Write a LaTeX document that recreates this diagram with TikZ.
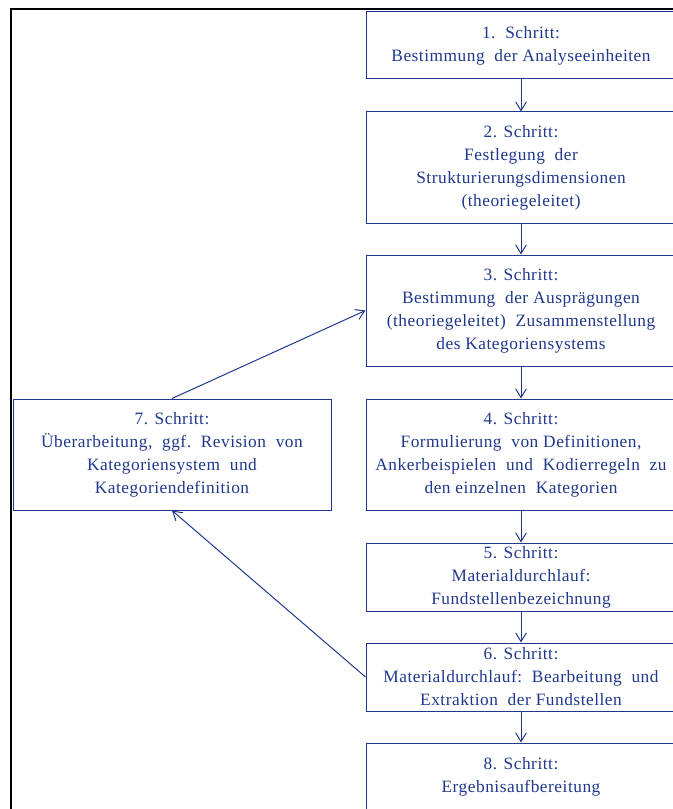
\documentclass[tikz,border=0pt]{standalone}
\usepackage{fontspec}
\setmainfont{Liberation Serif}[LetterSpace=3]
\usetikzlibrary{arrows.meta}
\definecolor{schrittblau}{RGB}{32,56,140}

\tikzset{
	schritt/.style={draw=schrittblau, line width=0.75pt, text=schrittblau, align=center,
		inner sep=0pt, minimum width=232.5pt, font=\fontsize{13pt}{17.25pt}\selectfont},
	pfeil/.style={draw=schrittblau, line width=0.75pt, -{Straight Barb[length=6.5pt,width=8pt]}}
}

\begin{document}
\begin{tikzpicture}[x=0.75pt,y=-0.75pt]

	\useasboundingbox (0,0) rectangle (673,809);
	
	% Rahmen
	\draw[line width=1.5pt] (11,830) |- (700,9.3);
	
	% Schritte rechts
	\node[schritt, minimum height=50.25pt] (s1) at (521,45.5) {1.~~Schritt:\\Bestimmung~~der Analyseeinheiten};
	\node[schritt, minimum height=83.25pt] (s2) at (521,167.5) {2. Schritt:\\Festlegung~~der\\Strukturierungsdimensionen\\(theoriegeleitet)};
	\node[schritt, minimum height=83.25pt] (s3) at (521,310.5) {3. Schritt:\\Bestimmung~~der Ausprägungen\\(theoriegeleitet)~~Zusammenstellung\\des Kategoriensystems};
	\node[schritt, minimum height=83.25pt] (s4) at (521,454.5) {4. Schritt:\\Formulierung~~von Definitionen,\\Ankerbeispielen~~und~~Kodierregeln~~zu\\den einzelnen~~Kategorien};
	\node[schritt, minimum height=51pt] (s5) at (521,577) {5. Schritt:\\Materialdurchlauf:\\Fundstellenbezeichnung};
	\node[schritt, minimum height=51pt] (s6) at (521,677) {6. Schritt:\\Materialdurchlauf:~~Bearbeitung~~und\\Extraktion~~der Fundstellen};
	\node[schritt, minimum height=51pt] (s8) at (521,777) {8. Schritt:\\Ergebnisaufbereitung};
	
	% Schritt links
	\node[schritt, minimum height=83.25pt, minimum width=238.5pt] (s7) at (172,454.5) {7. Schritt:\\Überarbeitung,~~ggf.~~Revision~~von\\Kategoriensystem~~und\\Kategoriendefinition};
	
	% Pfeile
	\draw[pfeil] (s1) -- (s2);
	\draw[pfeil] (s2) -- (s3);
	\draw[pfeil] (s3) -- (s4);
	\draw[pfeil] (s4) -- (s5);
	\draw[pfeil] (s5) -- (s6);
	\draw[pfeil] (s6) -- (s8);
	\draw[pfeil] (s6.west) -- (s7.south);
	\draw[pfeil] (s7.north) -- (s3.west);

\end{tikzpicture}
\end{document}
